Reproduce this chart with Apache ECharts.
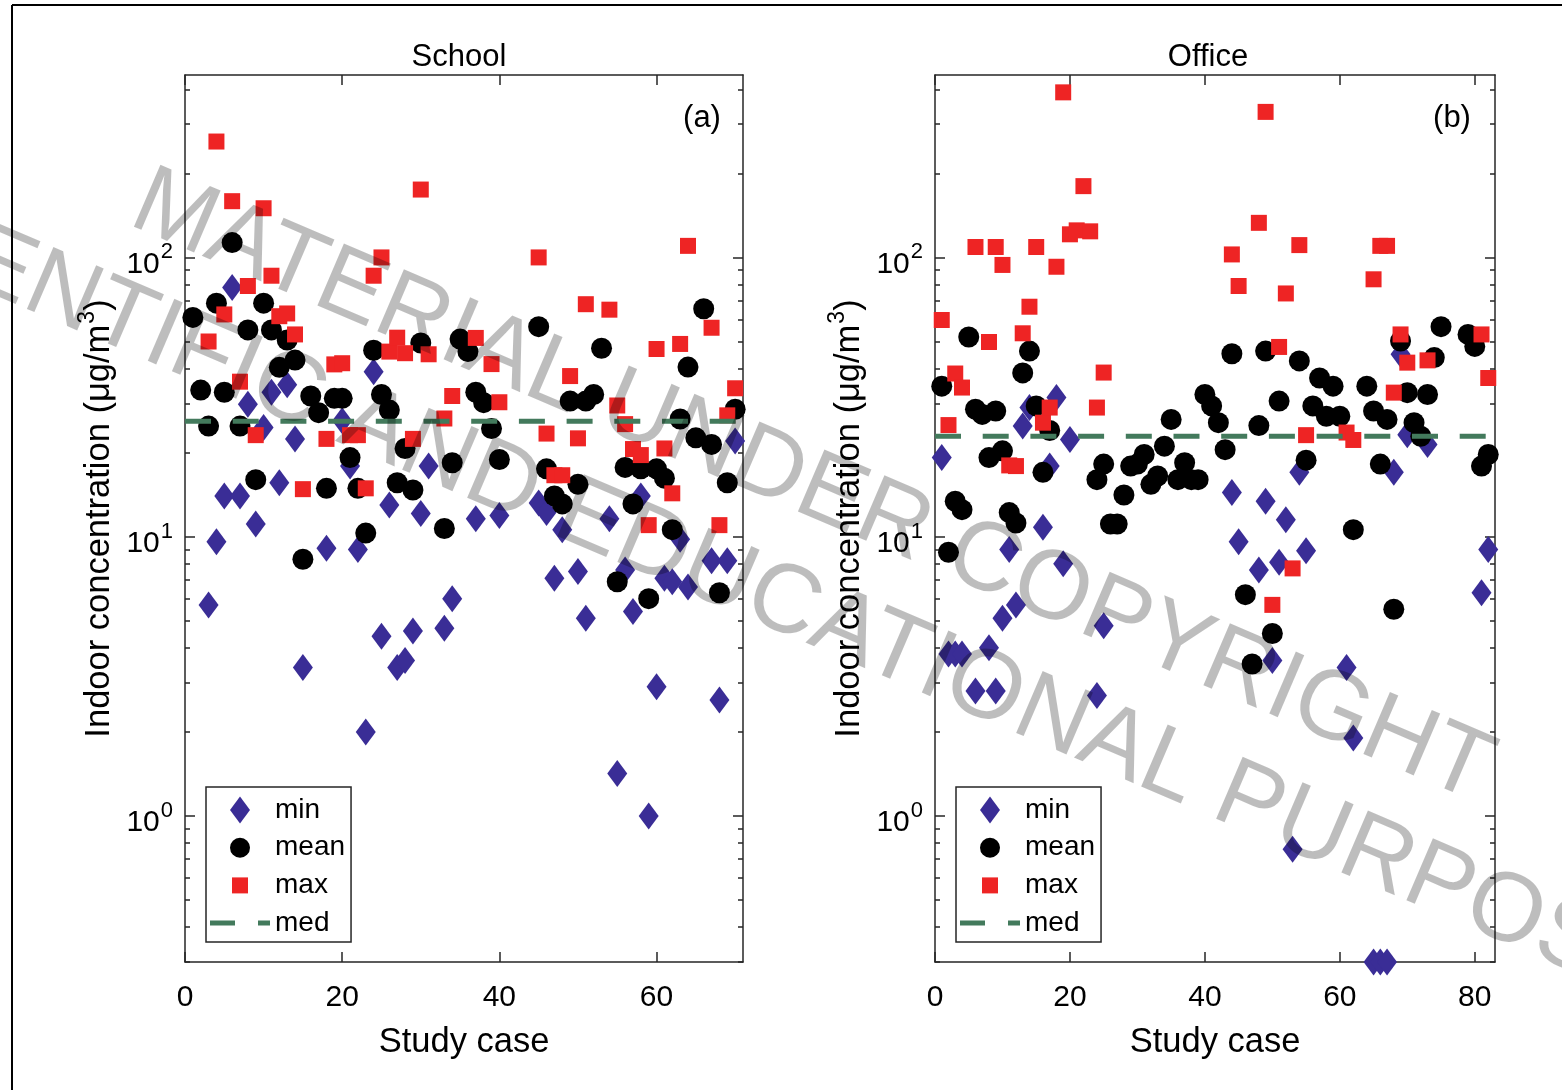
<!DOCTYPE html>
<html>
<head>
<meta charset="utf-8">
<script src="https://cdn.jsdelivr.net/npm/echarts@6/dist/echarts.min.js"></script>
<style>
html, body { margin: 0; padding: 0; background: #fff; }
#chart { width: 1562px; height: 1090px; }
</style>
</head>
<body>
<div id="chart"></div>
<script>
// ---- data: [study case, concentration in ug/m3] ----
const schoolMin = [
  [3, 5.7], [4, 9.6], [5, 14], [6, 78], [7, 14], [8, 29.8], [9, 11.1], [10, 24.6],
  [11, 32.9], [12, 15.6], [13, 35], [14, 22.4], [15, 3.4], [18, 9.1], [20, 26],
  [21, 17.9], [22, 9.0], [23, 2.0], [24, 39], [25, 4.4], [26, 13.0], [27, 3.4],
  [28, 3.6], [29, 4.6], [30, 12.1], [31, 17.9], [33, 4.7], [34, 6.0], [37, 11.6],
  [40, 11.9], [45, 13.2], [46, 12.2], [47, 7.1], [48, 10.6], [50, 7.5], [51, 5.1],
  [54, 11.6], [55, 1.42], [56, 7.6], [57, 5.4], [58, 14.0], [59, 1.0], [60, 2.9],
  [61, 7.1], [62, 6.9], [63, 9.8], [64, 6.6], [67, 8.2], [68, 2.6], [69, 8.2], [70, 22.0]
];
const schoolMean = [
  [1, 61], [2, 33.5], [3, 24.9], [4, 68.6], [5, 32.9], [6, 113], [7, 24.9], [8, 55],
  [9, 16], [10, 68.6], [11, 55], [12, 40.4], [13, 50.6], [14, 42.9], [15, 8.3],
  [16, 31.9], [17, 27.8], [18, 14.9], [19, 31.3], [20, 31.3], [21, 19.2], [22, 14.9],
  [23, 10.3], [24, 46.5], [25, 32.3], [26, 28.4], [27, 15.6], [28, 20.7], [29, 14.7],
  [30, 49.4], [33, 10.7], [34, 18.4], [35, 51], [36, 46], [37, 32.9], [38, 30.2],
  [39, 24.4], [40, 18.9], [45, 56.5], [46, 17.5], [47, 14.0], [48, 13.1], [49, 30.6],
  [50, 15.4], [51, 30.6], [52, 32.3], [53, 47.3], [55, 6.9], [56, 17.7], [57, 13.1],
  [58, 17.5], [59, 6.0], [60, 17.5], [61, 16.2], [62, 10.6], [63, 26.4], [64, 40.5],
  [65, 22.6], [66, 65.5], [67, 21.4], [68, 6.3], [69, 15.6], [70, 28.6]
];
const schoolMax = [
  [3, 50], [4, 260], [5, 62.5], [6, 159], [7, 35.9], [8, 79], [9, 23.1], [10, 150],
  [11, 86], [12, 61.6], [13, 63], [14, 53], [15, 14.8], [18, 22.4], [19, 41.4],
  [20, 41.8], [21, 23.1], [22, 23.1], [23, 14.9], [24, 86], [25, 100], [26, 46],
  [27, 51.6], [28, 45.4], [29, 22.4], [30, 175], [31, 45], [33, 26.5], [34, 31.9],
  [37, 51.5], [39, 41.5], [40, 30.3], [45, 100], [46, 23.4], [47, 16.6], [48, 16.6],
  [49, 37.6], [50, 22.5], [51, 68], [54, 65], [55, 29.5], [56, 25.3], [57, 20.6],
  [58, 19.6], [59, 11.0], [60, 47], [61, 20.7], [62, 14.3], [63, 49], [64, 110],
  [67, 56], [68, 11.0], [69, 27.2], [70, 34]
];
const schoolMed = 25.9;
const schoolMedSpan = [0, 71];

const officeMin = [
  [1, 19.2], [2, 3.8], [3, 3.8], [4, 3.8], [6, 2.8], [8, 4.0], [9, 2.8], [10, 5.1],
  [11, 9.0], [12, 5.7], [13, 24.9], [14, 29], [16, 10.8], [17, 17.9], [18, 31.5],
  [19, 8.0], [20, 22.3], [24, 2.7], [25, 4.8], [44, 14.4], [45, 9.6], [48, 7.6],
  [49, 13.4], [50, 3.6], [51, 8.1], [52, 11.5], [53, 0.76], [54, 17], [55, 8.9],
  [61, 3.4], [62, 1.9], [65, 0.3], [66, 0.3], [67, 0.3], [68, 17], [69, 45],
  [70, 23.2], [73, 21.4], [81, 6.3], [82, 9.0]
];
const officeMean = [
  [1, 34.6], [2, 8.8], [3, 13.4], [4, 12.5], [5, 51.9], [6, 28.6], [7, 27.4], [8, 19.2],
  [9, 28.2], [10, 20.3], [11, 12.2], [12, 11.2], [13, 38.6], [14, 46.2], [15, 29.4],
  [16, 17], [17, 24], [24, 16.0], [25, 18.2], [26, 11.1], [27, 11.1], [28, 14.1],
  [29, 17.9], [30, 18.2], [31, 19.7], [32, 15.4], [33, 16.5], [34, 21.1], [35, 26.3],
  [36, 16], [37, 18.4], [38, 16], [39, 16], [40, 32.3], [41, 29.4], [42, 25.6],
  [43, 20.5], [44, 45.2], [46, 6.2], [47, 3.5], [48, 25], [49, 46.2], [50, 4.5],
  [51, 30.6], [54, 42.6], [55, 18.8], [56, 29.4], [57, 37], [58, 27], [59, 34.6],
  [60, 27], [62, 10.6], [64, 34.6], [65, 28.2], [66, 18.2], [67, 26.3], [68, 5.5],
  [69, 50.2], [70, 32.8], [71, 25.6], [72, 22.9], [73, 32.3], [74, 43.8], [75, 56.5],
  [79, 53], [80, 48], [81, 17.9], [82, 19.7]
];
const officeMax = [
  [1, 59.7], [2, 25.1], [3, 38.4], [4, 34.2], [6, 109], [8, 49.8], [9, 109], [10, 94],
  [11, 18], [12, 17.9], [13, 53.5], [14, 66.6], [15, 109], [16, 25.6], [17, 29],
  [18, 92.6], [19, 390], [20, 121], [21, 125], [22, 180], [23, 124], [24, 29],
  [25, 38.7], [44, 102.5], [45, 79], [48, 133], [49, 332], [50, 5.7], [51, 47.8],
  [52, 74.3], [53, 7.7], [54, 110.7], [55, 23.1], [61, 23.6], [62, 22.2], [65, 83.5],
  [66, 110], [67, 110], [68, 32.8], [69, 53], [70, 42], [73, 42.8], [81, 53], [82, 37]
];
const officeMed = 22.9;
const officeMedSpan = [0, 82];

// ---- axes ----
const schoolXMax = 71;
const officeXMax = 83;
const schoolXTicks = [0, 20, 40, 60];
const officeXTicks = [0, 20, 40, 60, 80];
const yMin = 0.3;
const yMax = 450;
const yMajor = [1, 10, 100];
const yMinor = [];
[0.1, 1, 10, 100].forEach(d => {
  for (let k = 2; k <= 9; k++) yMinor.push(+(k * d).toPrecision(2));
});
const yMinorIn = yMinor.filter(v => v >= yMin && v <= yMax);

const FONT = '"Liberation Sans", Arial, Helvetica, sans-serif';
const AXIS_COLOR = '#262626';
const C_MIN = '#3a2d96';
const C_MEAN = '#000000';
const C_MAX = '#ee2424';
const C_MED = '#437a5c';

// legend icons (60 x 27 box, marker sized like in the plot)
const ICON_MIN = 'path://M0,0M60,27M20,13.5L30,0L40,13.5L30,27Z';
const ICON_MEAN = 'path://M0,0M60,27M20,13.5A10,10,0,1,0,40,13.5A10,10,0,1,0,20,13.5Z';
const ICON_MAX = 'path://M0,0M60,27M22,5.5L38,5.5L38,21.5L22,21.5Z';
const ICON_MED = 'path://M0,0M60,27M0,11L25,11L25,16L0,16ZM48,11L60,11L60,16L48,16Z';

const grids = [
  { left: 185, top: 75, width: 558, height: 887 },
  { left: 935, top: 75, width: 560, height: 887 }
];

function xAxesFor(gi, max, ticks) {
  const base = {
    gridIndex: gi, type: 'value', min: 0, max: max,
    splitLine: { show: false },
    axisLine: { show: true, onZero: false, lineStyle: { color: AXIS_COLOR, width: 1.5 } },
    axisTick: { show: true, inside: true, length: 10, customValues: ticks,
      lineStyle: { color: AXIS_COLOR, width: 1.5 } }
  };
  return [
    Object.assign({}, base, {
      position: 'bottom',
      axisLabel: { customValues: ticks, fontSize: 30, fontFamily: FONT, color: '#000', margin: 21 },
      name: 'Study case', nameLocation: 'middle', nameGap: 63,
      nameTextStyle: { fontSize: 34.5, fontFamily: FONT, color: '#000' }
    }),
    Object.assign({}, base, { position: 'top', axisLabel: { show: false } })
  ];
}

function yAxesFor(gi) {
  const base = { gridIndex: gi, type: 'log', logBase: 10, min: yMin, max: yMax, splitLine: { show: false } };
  const tickStyle = { color: AXIS_COLOR, width: 1.5 };
  const major = (pos) => Object.assign({}, base, {
    position: pos,
    axisLine: { show: true, lineStyle: { color: AXIS_COLOR, width: 1.5 } },
    axisTick: { show: true, inside: true, length: 10, customValues: yMajor, lineStyle: tickStyle },
    axisLabel: pos === 'left' ? {
      customValues: yMajor, margin: 12, color: '#000', fontFamily: FONT,
      padding: [14, 0, 0, 0],
      formatter: v => '{b|10}{s|' + Math.round(Math.log10(v)) + '}',
      rich: {
        b: { fontSize: 30, fontFamily: FONT, color: '#000' },
        s: { fontSize: 22, fontFamily: FONT, color: '#000', padding: [0, 0, 24, 1] }
      }
    } : { show: false }
  });
  const minor = (pos) => Object.assign({}, base, {
    position: pos,
    axisLine: { show: false },
    axisTick: { show: true, inside: true, length: 5, customValues: yMinorIn, lineStyle: tickStyle },
    axisLabel: { show: false }
  });
  const left = major('left');
  left.name = 'Indoor concentration (μg/m{s|3})';
  left.nameLocation = 'middle';
  left.nameGap = 62;
  left.nameTextStyle = {
    fontSize: 34.5, fontFamily: FONT, color: '#000',
    rich: { s: { fontSize: 23, fontFamily: FONT, color: '#000', padding: [0, 0, 24, 1] } }
  };
  return [left, minor('left'), major('right'), minor('right')];
}

function panelSeries(gi, mins, means, maxs, med, span) {
  const ax = { xAxisIndex: gi * 2, yAxisIndex: gi * 4 };
  return [
    Object.assign({ name: 'min', type: 'scatter', symbol: 'diamond', symbolSize: [20, 27],
      itemStyle: { color: C_MIN, opacity: 1 }, data: mins, z: 2 }, ax),
    Object.assign({ name: 'mean', type: 'scatter', symbol: 'circle', symbolSize: 21,
      itemStyle: { color: C_MEAN, opacity: 1 }, data: means, z: 3 }, ax),
    Object.assign({ name: 'max', type: 'scatter', symbol: 'rect', symbolSize: 16,
      itemStyle: { color: C_MAX, opacity: 1 }, data: maxs, z: 4 }, ax),
    Object.assign({ name: 'med', type: 'line', symbol: 'none', showSymbol: false,
      lineStyle: { color: C_MED, width: 5, type: [26, 21.7] },
      itemStyle: { color: C_MED },
      data: span.map(x => [x, med]), z: 5 }, ax)
  ];
}

function legendAt(left) {
  return {
    left: left, top: 787, orient: 'vertical', selectedMode: false,
    data: [
      { name: 'min', icon: ICON_MIN },
      { name: 'mean', icon: ICON_MEAN },
      { name: 'max', icon: ICON_MAX },
      { name: 'med', icon: ICON_MED }
    ],
    symbolKeepAspect: true,
    itemWidth: 60, itemHeight: 27, itemGap: 9.7,
    padding: [9, 6, 5, 4],
    borderColor: AXIS_COLOR, borderWidth: 1.5, backgroundColor: '#fff',
    textStyle: { fontSize: 28, fontFamily: FONT, color: '#000' }
  };
}

function label(text, x, y, size) {
  return { type: 'text', x: x, y: y, z: 50, silent: true,
    style: { text: text, font: size + 'px ' + FONT, fill: '#000', align: 'center', verticalAlign: 'middle' } };
}

function watermark(text, x, y) {
  return { type: 'text', x: x, y: y, rotation: -0.405, z: 100, silent: true,
    style: { text: text, font: '98px ' + FONT, fill: 'rgba(0,0,0,0.26)', align: 'center', verticalAlign: 'middle' } };
}

const option = {
  animation: false,
  backgroundColor: '#fff',
  grid: grids,
  xAxis: [].concat(xAxesFor(0, schoolXMax, schoolXTicks), xAxesFor(1, officeXMax, officeXTicks)),
  yAxis: [].concat(yAxesFor(0), yAxesFor(1)),
  legend: [legendAt(206), legendAt(956)],
  series: [].concat(
    panelSeries(0, schoolMin, schoolMean, schoolMax, schoolMed, schoolMedSpan),
    panelSeries(1, officeMin, officeMean, officeMax, officeMed, officeMedSpan)
  ),
  graphic: [
    label('School', 459, 57, 31),
    label('Office', 1208, 57, 31),
    label('(a)', 702, 118, 31),
    label('(b)', 1452, 118, 31),
    { type: 'line', z: 60, silent: true, shape: { x1: 12, y1: 5, x2: 1562, y2: 5 },
      style: { stroke: '#000', lineWidth: 2 } },
    { type: 'line', z: 60, silent: true, shape: { x1: 12, y1: 5, x2: 12, y2: 1090 },
      style: { stroke: '#000', lineWidth: 2 } },
    watermark('MATERIAL UNDER COPYRIGHT', 812, 488),
    watermark('SCIENTIFIC AND EDUCATIONAL PURPOSES', 770, 598)
  ]
};

const chart = echarts.init(document.getElementById('chart'), null, { renderer: 'canvas' });
chart.setOption(option);
</script>
</body>
</html>
